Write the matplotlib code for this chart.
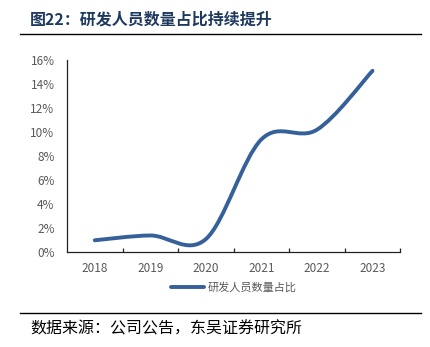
import matplotlib
matplotlib.use("Agg")
import matplotlib.pyplot as plt
from matplotlib.path import Path
from matplotlib.patches import PathPatch
from matplotlib.lines import Line2D
import numpy as np

plt.rcParams['font.family'] = ['Noto Sans CJK SC', 'DejaVu Sans']

years = ['2018', '2019', '2020', '2021', '2022', '2023']
ratio = [1.0, 1.4, 1.1, 9.4, 10.2, 15.1]   # 研发人员数量占比 (%)
series_name = '研发人员数量占比'
title = '图22：研发人员数量占比持续提升'
source = '数据来源：公司公告，东吴证券研究所'
yticks = [0, 2, 4, 6, 8, 10, 12, 14, 16]

LINE_C = '#35609A'
GRAY = '#595959'

fig = plt.figure(figsize=(4.30, 3.47), dpi=100)
W, H = 430, 347
ax = fig.add_axes([67 / W, 1 - 252.3 / H, (400.3 - 67) / W, (252.3 - 60) / H])

# Excel-style smoothed line (cubic Bezier through points)
x = np.arange(len(years), dtype=float)
y = np.array(ratio, dtype=float)
n = len(x)
verts = [(x[0], y[0])]
codes = [Path.MOVETO]
for i in range(n - 1):
    p0 = np.array([x[max(i - 1, 0)], y[max(i - 1, 0)]])
    p1 = np.array([x[i], y[i]])
    p2 = np.array([x[i + 1], y[i + 1]])
    p3 = np.array([x[min(i + 2, n - 1)], y[min(i + 2, n - 1)]])
    c1 = p1 + (p2 - p0) / 6.0
    c2 = p2 - (p3 - p1) / 6.0
    verts += [tuple(c1), tuple(c2), tuple(p2)]
    codes += [Path.CURVE4] * 3
patch = PathPatch(Path(verts, codes), facecolor='none', edgecolor=LINE_C,
                  linewidth=2.8, capstyle='round', joinstyle='round',
                  transform=ax.transData)
ax.add_patch(patch)

ax.set_xlim(-0.5, len(years) - 0.5)
ax.set_ylim(0, 16)
ax.set_yticks(yticks)
ax.set_yticklabels([f'{v}%' for v in yticks])
ax.set_xticks(x)
ax.set_xticklabels(years)
ax.tick_params(axis='x', which='major', length=0, pad=7, labelsize=8.5, labelcolor=GRAY)
ax.set_xticks(np.arange(-0.5, len(years), 1.0)[1:], minor=True)
ax.tick_params(axis='x', which='minor', direction='in', length=3, width=0.9, color='#222222')
ax.tick_params(axis='y', length=0, pad=9, labelsize=8.5, labelcolor=GRAY)
for s in ['top', 'right']:
    ax.spines[s].set_visible(False)
for s in ['left', 'bottom']:
    ax.spines[s].set_color('#222222')
    ax.spines[s].set_linewidth(0.9)

handle = Line2D([], [], color=LINE_C, linewidth=2.8, solid_capstyle='round')
fig.legend([handle], [series_name], loc='center',
           bbox_to_anchor=(233.5 / W, 1 - 288 / H), frameon=False,
           fontsize=8, handlelength=3.0, handletextpad=0.3,
           labelcolor=GRAY)

# Title and decorations
fig.text(30 / W, 1 - 20 / H, title, fontsize=11.5, fontweight='bold',
         color='#1F3A5F', va='center', ha='left')
fig.add_artist(Line2D([20 / W, 421 / W], [1 - 34.3 / H, 1 - 34.3 / H],
                      color='black', linewidth=1.0, transform=fig.transFigure))
fig.add_artist(Line2D([20 / W, 421 / W], [1 - 312.7 / H, 1 - 312.7 / H],
                      color='black', linewidth=1.0, transform=fig.transFigure))
fig.text(30 / W, 1 - 329 / H, source, fontsize=11.5, color='black',
         va='center', ha='left')

fig.savefig('out.png', dpi=100)
